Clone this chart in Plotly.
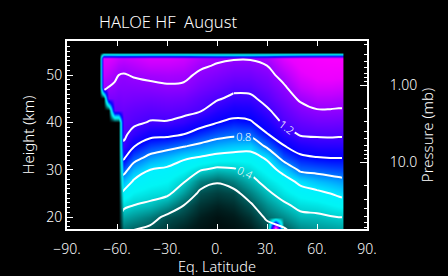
import math
import plotly.graph_objects as go

# ---------------- data ----------------
lat_centers = [-70.5, -68, -65, -61.5, -59, -56, -50, -40, -30, -20, -10,
               0, 10, 20, 30, 40, 50, 60, 68, 73, 75]
heights = [17, 20, 22.5, 25, 27.5, 30, 32.5, 35, 37.5, 40, 42.5, 45,
           47.5, 50, 52, 53.5, 54.8]
N = None
# HF mixing ratio (ppbv), one row per height, one column per latitude
hf = [
    [N, N, N, N, N, 0.22, 0.19, 0.16, 0.12, 0.08, 0.05, 0.03, 0.04, 0.07, 0.14, 0.17, 0.26, 0.29, 0.30, 0.31, 0.31],
    [N, N, N, N, N, 0.33, 0.30, 0.25, 0.17, 0.14, 0.08, 0.05, 0.07, 0.12, 0.22, 0.28, 0.36, 0.37, 0.39, 0.40, 0.40],
    [N, N, N, N, N, 0.435, 0.40, 0.37, 0.30, 0.20, 0.12, 0.09, 0.11, 0.18, 0.29, 0.37, 0.44, 0.46, 0.49, 0.51, 0.52],
    [N, N, N, N, N, 0.56, 0.49, 0.45, 0.43, 0.31, 0.17, 0.14, 0.16, 0.26, 0.37, 0.46, 0.53, 0.56, 0.60, 0.63, 0.64],
    [N, N, N, N, N, 0.71, 0.58, 0.53, 0.50, 0.41, 0.26, 0.21, 0.26, 0.35, 0.45, 0.53, 0.635, 0.70, 0.73, 0.75, 0.76],
    [N, N, N, N, N, 0.86, 0.71, 0.60, 0.57, 0.51, 0.41, 0.36, 0.38, 0.435, 0.53, 0.65, 0.83, 0.85, 0.87, 0.88, 0.88],
    [N, N, N, N, N, 1.02, 0.86, 0.75, 0.69, 0.62, 0.58, 0.54, 0.525, 0.53, 0.62, 0.865, 0.96, 0.99, 1.00, 1.00, 1.00],
    [N, N, N, N, N, 1.175, 1.01, 0.90, 0.86, 0.81, 0.76, 0.71, 0.68, 0.66, 0.83, 0.99, 1.09, 1.12, 1.12, 1.12, 1.12],
    [N, N, N, N, N, 1.23, 1.15, 1.05, 1.04, 1.00, 0.92, 0.86, 0.83, 0.84, 0.99, 1.12, 1.215, 1.225, 1.23, 1.225, 1.225],
    [N, N, N, N, N, 1.26, 1.23, 1.19, 1.19, 1.15, 1.07, 1.005, 0.96, 0.98, 1.09, 1.22, 1.28, 1.31, 1.31, 1.305, 1.305],
    [N, N, N, 1.28, 1.28, 1.29, 1.27, 1.25, 1.26, 1.245, 1.21, 1.12, 1.07, 1.08, 1.18, 1.27, 1.35, 1.39, 1.39, 1.385, 1.385],
    [N, N, 1.33, 1.33, 1.32, 1.33, 1.32, 1.31, 1.32, 1.31, 1.26, 1.215, 1.165, 1.17, 1.245, 1.33, 1.42, 1.47, 1.47, 1.46, 1.46],
    [N, 1.42, 1.40, 1.38, 1.36, 1.36, 1.36, 1.37, 1.385, 1.38, 1.32, 1.28, 1.24, 1.245, 1.30, 1.38, 1.50, 1.55, 1.55, 1.54, 1.54],
    [N, 1.50, 1.47, 1.43, 1.40, 1.39, 1.41, 1.43, 1.44, 1.43, 1.375, 1.34, 1.31, 1.31, 1.35, 1.45, 1.57, 1.62, 1.63, 1.62, 1.62],
    [N, 1.55, 1.53, 1.49, 1.46, 1.45, 1.47, 1.51, 1.51, 1.49, 1.42, 1.39, 1.36, 1.36, 1.40, 1.52, 1.62, 1.67, 1.68, 1.68, 1.68],
    [N, 1.58, 1.57, 1.54, 1.51, 1.50, 1.52, 1.56, 1.56, 1.53, 1.46, 1.42, 1.41, 1.41, 1.45, 1.57, 1.66, 1.70, 1.72, 1.72, 1.72],
    [N] * 21,
]
# the small saturated spot at the bottom near 35N (image only, not contoured)
spot_lat = 35
spot_column = [2.4, 0.25, 0.33, 0.41, 0.49, 0.59, 0.74, 0.91, 1.05, 1.155, 1.225, 1.29,
               1.34, 1.40, 1.46, 1.51, N]

plain_levels = dict(start=0.2, end=1.4, size=0.4)     # 0.2, 0.6, 1.0, 1.4
# labelled levels and the latitude band in which each label is allowed to sit
labelled_levels = [0.4, 0.8, 1.2]
label_bands = [(0, 75), (0, 75), (10, 60)]

lat_ticks = [-90, -60, -30, 0, 30, 60, 90]
lat_ticktext = ["\u221290.", "\u221260.", "\u221230.", "0.", "30.", "60.", "90."]
km_ticks = [20, 30, 40, 50]
p_ticks = [1, 10]
p_ticktext = ["1.00", "10.0"]
p_minor = [0.3, 0.4, 0.5, 0.6, 0.7, 0.8, 0.9, 2, 3, 4, 5, 6, 7, 8, 9, 20, 30, 40, 50, 60, 70]
# pressure-height relation: 1 mb at 47.9 km, 10 mb at 31.6 km
P1_KM, P10_KM = 47.9, 31.6
KM_RANGE = [17.5, 57.2]
LAT_RANGE = [-90, 90]

# ---------------- figure ----------------
ins = lat_centers.index(30) + 1
img_lats = lat_centers[:ins] + [spot_lat] + lat_centers[ins:]
z_img = []
for row, sv in zip(hf, spot_column):
    r = row[:ins] + [sv] + row[ins:]
    z_img.append([0 if v is None else v for v in r])

cs_pts = [
    (0.00, (0, 0, 0)), (0.08, (0, 30, 30)), (0.20, (0, 95, 95)), (0.30, (0, 150, 150)),
    (0.40, (0, 205, 205)), (0.50, (0, 245, 245)), (0.60, (0, 240, 255)), (0.70, (0, 190, 255)),
    (0.80, (0, 130, 255)), (0.90, (0, 65, 255)), (1.00, (0, 0, 255)), (1.10, (30, 0, 255)),
    (1.20, (70, 0, 255)), (1.30, (110, 0, 255)), (1.40, (150, 0, 255)), (1.50, (195, 0, 255)),
    (1.60, (235, 0, 255)), (1.75, (255, 0, 255)), (2.00, (255, 255, 255)),
]
ZMAX = 2.0
colorscale = [[v / ZMAX, "rgb(%d,%d,%d)" % c] for v, c in cs_pts]

FONT = "Noto Sans"
FW = 300
LINE = dict(color="white", width=2)

def tfont(size):
    return dict(family=FONT, size=size, color="white", weight=FW)

def lat_slice(lo, hi):
    i0 = lat_centers.index(lo) if lo is not None else 0
    i1 = lat_centers.index(hi) + 1 if hi is not None else len(lat_centers)
    return lat_centers[i0:i1], [row[i0:i1] for row in hf]

fig = go.Figure()
fig.add_trace(go.Heatmap(x=img_lats, y=heights, z=z_img, zmin=0, zmax=ZMAX,
                         colorscale=colorscale, zsmooth="best", showscale=False,
                         hoverinfo="skip"))
# unlabelled levels everywhere
fig.add_trace(go.Contour(x=lat_centers, y=heights, z=hf, autocontour=False,
                         contours=dict(coloring="none", **plain_levels),
                         line=LINE, showscale=False, hoverinfo="skip"))
# labelled levels: each drawn in latitude pieces, label only in the band piece
for lev, band in zip(labelled_levels, label_bands):
    pieces = [(None, band[0], False), (band[0], band[1], True)]
    if band[1] != lat_centers[-1]:
        pieces.append((band[1], None, False))
    for lo, hi, lab in pieces:
        xs, zs = lat_slice(lo, hi)
        fig.add_trace(go.Contour(x=xs, y=heights, z=zs, autocontour=False,
                                 contours=dict(coloring="none", showlabels=lab,
                                               labelfont=tfont(11),
                                               start=lev, end=lev, size=0.4),
                                 line=LINE, showscale=False, hoverinfo="skip"))
fig.add_trace(go.Scatter(x=[None], y=[None], yaxis="y2", showlegend=False))

def km_to_logp(km):
    return (P1_KM - km) / (P1_KM - P10_KM)

axis_common = dict(showgrid=False, zeroline=False, showline=True, linecolor="white",
                   linewidth=2, tickcolor="white", tickwidth=1, tickfont=tfont(14),
                   automargin=False)

fig.update_layout(
    width=448, height=276,
    margin=dict(l=67, r=81, t=41, b=47, autoexpand=False),
    paper_bgcolor="black", plot_bgcolor="black",
    showlegend=False,
    font=dict(family=FONT, color="white"),
    title=dict(text="HALOE HF\u00a0 August", x=99 / 448, xanchor="left", xref="container",
               y=1 - 22 / 276, yanchor="middle", yref="container", font=tfont(16.5),
               automargin=False),
    xaxis=dict(range=LAT_RANGE, tickvals=lat_ticks, ticktext=lat_ticktext,
               ticks="inside", ticklen=5, mirror="ticks", ticklabelstandoff=6,
               title=dict(text="Eq. Latitude", standoff=4, font=tfont(14.5)),
               **axis_common),
    yaxis=dict(range=KM_RANGE, tickvals=km_ticks, ticks="inside", ticklen=6,
               minor=dict(dtick=1, ticks="inside", ticklen=3, tickcolor="white"),
               title=dict(text="Height (km)", standoff=8, font=tfont(15)),
               **axis_common),
    yaxis2=dict(overlaying="y", side="right", type="log", anchor="x",
                range=[km_to_logp(KM_RANGE[0]), km_to_logp(KM_RANGE[1])],
                tickvals=p_ticks, ticktext=p_ticktext, ticks="inside", ticklen=7,
                minor=dict(tickvals=p_minor, ticks="inside", ticklen=3, tickcolor="white"),
                ticklabelstandoff=18,
                title=dict(text="Pressure (mb)", standoff=2, font=tfont(15)),
                **axis_common),
)

fig.write_html("out.html")
